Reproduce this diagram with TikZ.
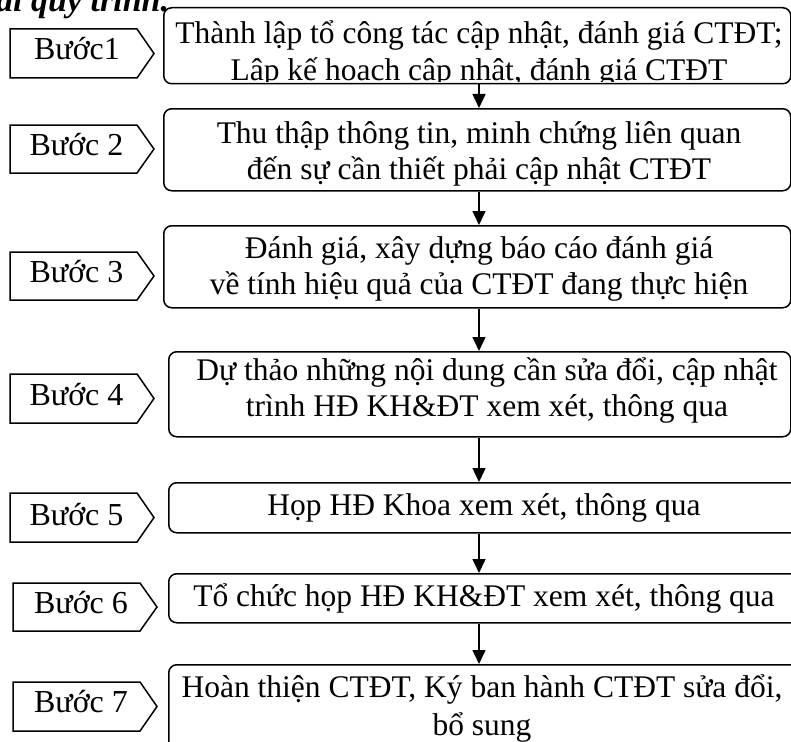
\documentclass[tikz,border=0pt]{standalone}
\usepackage{fontspec}
\setmainfont{Liberation Serif}
\usetikzlibrary{arrows.meta}
\begin{document}
\begin{tikzpicture}[x=1pt,y=-1pt,
  stepbox/.style={draw,line width=1.5pt,rounded corners=8pt,anchor=north west,inner sep=0pt},
  tag/.style={draw,line width=1.5pt,line join=miter},
  boxtext/.style={font=\fontsize{31.5}{36}\selectfont,align=center,anchor=base,inner sep=0pt},
  tagtext/.style={font=\fontsize{32}{36}\selectfont,anchor=base,inner sep=0pt},
  arr/.style={line width=1.5pt,-{Triangle[length=14pt,width=13pt]}}]
\useasboundingbox (0,0) rectangle (791,741);
\clip (0,0) rectangle (791,741);

% title (cut at top)
\node[font=\fontsize{34}{38}\selectfont\bfseries\itshape,anchor=base west,inner sep=0pt] (title) at (-4,12) {ai quy trình.};

% right boxes
\node[stepbox,minimum width=627pt,minimum height=76pt] (box1) at (163,7) {};
\node[stepbox,minimum width=627pt,minimum height=82pt] (box2) at (163,108) {};
\node[stepbox,minimum width=627pt,minimum height=82pt] (box3) at (163,225) {};
\node[stepbox,minimum width=622pt,minimum height=85pt] (box4) at (168,351) {};
\node[stepbox,minimum width=640pt,minimum height=50pt] (box5) at (168,482) {};
\node[stepbox,minimum width=640pt,minimum height=49pt] (box6) at (168,573) {};
\node[stepbox,minimum width=640pt,minimum height=110pt] (box7) at (168,664) {};

% texts (base anchor = baseline of last line)
\begin{scope}
\clip (163,7) rectangle (790,82);
\node[boxtext] (t1) at (479,81) {Thành lập tổ công tác cập nhật, đánh giá CTĐT;\\[1pt]Lập kế hoạch cập nhật, đánh giá CTĐT};
\end{scope}
\node[boxtext] (t2) at (479,179) {Thu thập thông tin, minh chứng liên quan\\đến sự cần thiết phải cập nhật CTĐT};
\node[boxtext] (t3) at (479,294) {Đánh giá, xây dựng báo cáo đánh giá\\về tính hiệu quả của CTĐT đang thực hiện};
\node[boxtext] (t4) at (487,416) {Dự thảo những nội dung cần sửa đổi, cập nhật\\trình HĐ KH\&ĐT xem xét, thông qua};
\node[boxtext] (t5) at (484,515) {Họp HĐ Khoa xem xét, thông qua};
\node[boxtext] (t6) at (484,606) {Tổ chức họp HĐ KH\&ĐT xem xét, thông qua};
\node[boxtext] (t7) at (482,735) {Hoàn thiện CTĐT, Ký ban hành CTĐT sửa đổi,\\[2pt]bổ sung};

% step tags
\draw[tag] (10,29) -- (137,29) -- (154,53.5) -- (137,78) -- (10,78) -- cycle;
\draw[tag] (10,125) -- (137,125) -- (154,149) -- (137,173) -- (10,173) -- cycle;
\draw[tag] (10,252) -- (137,252) -- (154,276) -- (137,300) -- (10,300) -- cycle;
\draw[tag] (10,374) -- (137,374) -- (154,398.5) -- (137,423) -- (10,423) -- cycle;
\draw[tag] (10,493) -- (137,493) -- (154,517.5) -- (137,542) -- (10,542) -- cycle;
\draw[tag] (13,583) -- (140,583) -- (157,607) -- (140,631) -- (13,631) -- cycle;
\draw[tag] (13,682) -- (140,682) -- (157,706.5) -- (140,731) -- (13,731) -- cycle;
\node[tagtext] (s1) at (77,60) {Bước1};
\node[tagtext] (s2) at (76.5,155) {Bước 2};
\node[tagtext] (s3) at (76.5,282) {Bước 3};
\node[tagtext] (s4) at (76.5,405) {Bước 4};
\node[tagtext] (s5) at (76.5,525) {Bước 5};
\node[tagtext] (s6) at (81,613) {Bước 6};
\node[tagtext] (s7) at (81,712) {Bước 7};

% arrows
\coordinate (ax) at (479,0);
\draw[arr] (box1.south -| ax) -- (box2.north -| ax);
\draw[arr] (box2.south -| ax) -- (box3.north -| ax);
\draw[arr] (box3.south -| ax) -- (box4.north -| ax);
\draw[arr] (box4.south -| ax) -- (box5.north -| ax);
\draw[arr] (box5.south -| ax) -- (box6.north -| ax);
\draw[arr] (box6.south -| ax) -- (box7.north -| ax);
\end{tikzpicture}
\end{document}
